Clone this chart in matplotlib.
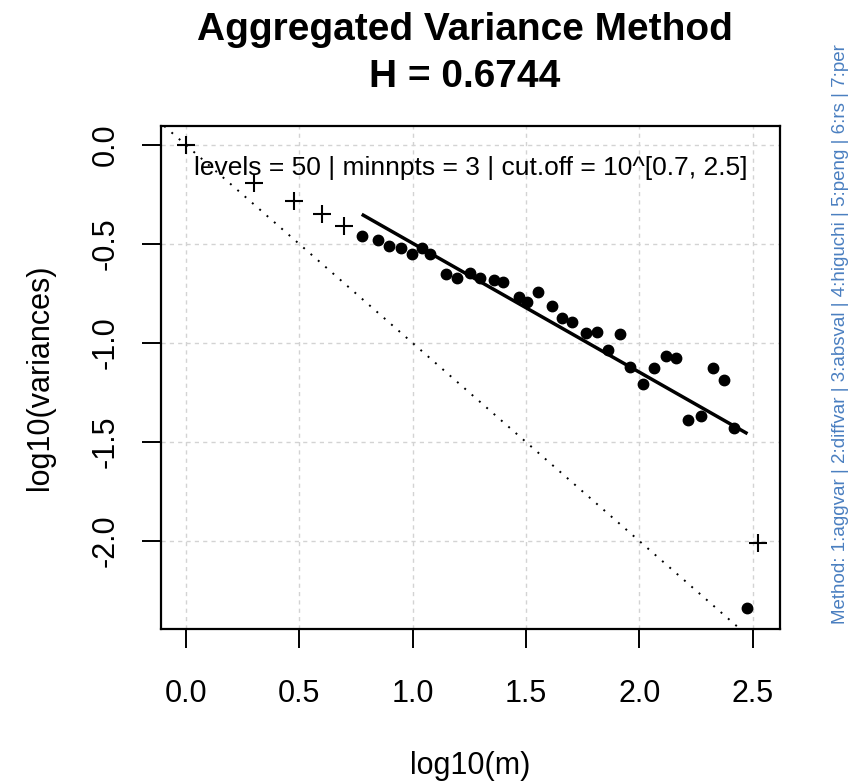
import matplotlib
matplotlib.use("Agg")
import matplotlib.pyplot as plt
import numpy as np

plt.rcParams['font.family'] = ['Liberation Sans', 'DejaVu Sans']

# points outside the cut-off range (drawn as crosses)
out_x = [0.0, 0.301, 0.477, 0.602, 0.699, 2.523]
out_y = [0.0, -0.190, -0.283, -0.350, -0.410, -2.010]

# points inside the cut-off range (filled dots)
in_x = [0.775, 0.846, 0.897, 0.948, 0.996, 1.040, 1.076, 1.146, 1.197, 1.253,
        1.297, 1.359, 1.397, 1.470, 1.503, 1.554, 1.616, 1.660, 1.704, 1.763,
        1.812, 1.863, 1.914, 1.959, 2.015, 2.066, 2.117, 2.161, 2.216, 2.270,
        2.323, 2.375, 2.419, 2.473]
in_y = [-0.460, -0.480, -0.510, -0.522, -0.551, -0.519, -0.551, -0.652, -0.673, -0.648,
        -0.673, -0.682, -0.690, -0.769, -0.791, -0.741, -0.813, -0.875, -0.895, -0.951,
        -0.943, -1.035, -0.955, -1.120, -1.209, -1.128, -1.066, -1.077, -1.389, -1.369,
        -1.128, -1.187, -1.431, -2.340]

# fitted line
H = 0.6744
fit_slope = 2 * H - 2
fit_intercept = 0.155
fit_range = [0.782, 2.470]

xticks = [0.0, 0.5, 1.0, 1.5, 2.0, 2.5]
yticks = [0.0, -0.5, -1.0, -1.5, -2.0]

W, Hpx = 853, 783
fig = plt.figure(figsize=(W / 100, Hpx / 100), dpi=100)
ax = fig.add_axes([161 / W, 1 - 629 / Hpx, (780 - 161) / W, (629 - 126) / Hpx])

ax.set_xlim(-0.11, 2.62)
ax.set_ylim(-2.444, 0.096)

for xv in xticks:
    ax.axvline(xv, color='#d3d3d3', lw=1, ls=(0, (3, 3)), zorder=0)
for yv in yticks:
    ax.axhline(yv, color='#d3d3d3', lw=1, ls=(0, (3, 3)), zorder=0)

ax.axline((0, 0), slope=-1, color='black', lw=1.4, ls=(0, (1, 4)))

ax.plot(out_x, out_y, '+', color='black', ms=12.5, mew=1.5, clip_on=False)
ax.plot(in_x, in_y, 'o', color='black', ms=7.5)

fx = np.array(fit_range)
ax.plot(fx, fit_intercept + fit_slope * fx, color='black', lw=2.5)

ax.text(0.5, 0.9165, 'levels = 50 | minnpts = 3 | cut.off = 10^[0.7, 2.5]',
        transform=ax.transAxes, ha='center', va='center', fontsize=19)

for s in ax.spines.values():
    s.set_linewidth(1.6)

ax.set_xticks(xticks)
ax.set_xticklabels([f'{v:.1f}' for v in xticks], fontsize=22)
ax.set_yticks(yticks)
ax.set_yticklabels([f'{v:.1f}' for v in yticks], fontsize=22, rotation=90, va='center')
ax.tick_params(length=14, width=1.4)
ax.tick_params(axis='x', pad=22)
ax.tick_params(axis='y', pad=15)

ax.set_xlabel('log10(m)', fontsize=22, va='center')
ax.xaxis.set_label_coords(0.5, (629 - 766) / 503)
ax.set_ylabel('log10(variances)', fontsize=22, va='center')
ax.yaxis.set_label_coords((40 - 161) / 619, 0.5)

fig.text(465 / W, 1 - 30 / Hpx, 'Aggregated Variance Method', ha='center', va='center',
         fontsize=28, fontweight='bold')
fig.text(465 / W, 1 - 77 / Hpx, 'H = 0.6744', ha='center', va='center',
         fontsize=28, fontweight='bold')

fig.text(841 / W, 1 - 334 / Hpx,
         'Method: 1:aggvar | 2:diffvar | 3:absval | 4:higuchi | 5:peng | 6:rs | 7:per',
         rotation=90, ha='center', va='center', fontsize=13.5, color='#4A7FC0')

fig.savefig('out.png', dpi=100)
